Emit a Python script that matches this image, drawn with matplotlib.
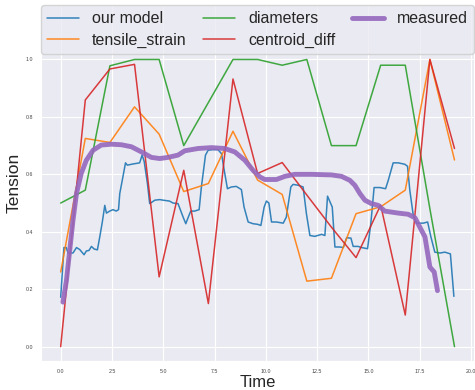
import numpy as np
import seaborn as sns
import matplotlib
matplotlib.use('Agg')
import matplotlib.pyplot as plt

# feature curves, sampled every 1.2 s
feature_time = [0.0, 1.2, 2.4, 3.6, 4.8, 6.0, 7.2, 8.4, 9.6, 10.8, 12.0, 13.2, 14.4, 15.6, 16.8, 18.0, 19.2]
tensile_strain = [0.26, 0.725, 0.711, 0.835, 0.74, 0.54, 0.568, 0.75, 0.58, 0.53, 0.228, 0.238, 0.463, 0.487, 0.545, 1.0, 0.65]
diameters = [0.50, 0.545, 0.978, 1.0, 1.0, 0.70, 0.85, 1.0, 1.0, 0.98, 1.0, 0.70, 0.70, 0.98, 0.98, 0.48, 0.0]
centroid_diff = [0.0, 0.859, 0.967, 0.983, 0.243, 0.614, 0.15, 0.932, 0.603, 0.641, 0.528, 0.416, 0.31, 0.493, 0.11, 1.0, 0.69]

# model output
model_time = [0.0, 0.16, 0.27, 0.36, 0.6, 0.77, 0.93, 1.14, 1.25, 1.38, 1.5, 1.63, 1.79, 1.9, 2.03, 2.15,
              2.23, 2.39, 2.55, 2.71, 2.82, 2.88, 3.01, 3.16, 3.25, 3.52, 3.85, 3.97, 4.07, 4.23, 4.34, 4.59,
              4.83, 4.99, 5.3, 5.48, 5.72, 5.97, 6.1, 6.21, 6.34, 6.53, 6.75, 6.86, 7.06, 7.19, 7.43, 7.67,
              7.84, 8.0, 8.13, 8.32, 8.56, 8.81, 8.94, 9.14, 9.38, 9.6, 9.76, 9.92, 10.03, 10.15, 10.28, 10.52,
              10.85, 11.0, 11.22, 11.33, 11.58, 11.82, 11.98, 12.15, 12.39, 12.72, 12.88, 13.01, 13.13, 13.24,
              13.37, 13.61, 13.78, 13.94, 14.15, 14.26, 14.5, 14.67, 14.96, 15.12, 15.28, 15.56, 15.84, 15.97,
              16.21, 16.46, 16.78, 16.91, 17.02, 17.19, 17.35, 17.68, 17.89, 18.05, 18.24, 18.49, 18.73, 19.0,
              19.17]
our_model = [0.172, 0.345, 0.345, 0.326, 0.326, 0.345, 0.338, 0.32, 0.333, 0.335, 0.349, 0.34, 0.337, 0.38,
             0.434, 0.492, 0.465, 0.472, 0.477, 0.472, 0.477, 0.533, 0.582, 0.64, 0.632, 0.636, 0.64, 0.667,
             0.645, 0.568, 0.498, 0.51, 0.512, 0.51, 0.507, 0.5, 0.498, 0.451, 0.428, 0.449, 0.472, 0.472,
             0.477, 0.556, 0.667, 0.684, 0.686, 0.686, 0.672, 0.603, 0.55, 0.556, 0.558, 0.547, 0.486, 0.434,
             0.428, 0.426, 0.422, 0.486, 0.507, 0.5, 0.434, 0.434, 0.43, 0.451, 0.556, 0.565, 0.562, 0.556,
             0.463, 0.387, 0.384, 0.391, 0.387, 0.524, 0.504, 0.486, 0.347, 0.347, 0.345, 0.379, 0.378, 0.349,
             0.349, 0.345, 0.341, 0.428, 0.554, 0.554, 0.55, 0.579, 0.64, 0.64, 0.635, 0.628, 0.545, 0.457,
             0.43, 0.43, 0.434, 0.382, 0.329, 0.326, 0.329, 0.323, 0.175]

# measured tension
measured_time = [0.11, 0.28, 0.44, 0.6, 0.77, 1.0, 1.25, 1.58, 1.98, 2.47, 2.96, 3.45, 3.94, 4.42, 4.83,
                 5.23, 5.72, 6.05, 6.7, 7.35, 8.0, 8.49, 8.98, 9.38, 9.71, 9.95, 10.52, 10.93, 11.41, 12.23,
                 13.2, 13.69, 14.1, 14.34, 14.59, 14.83, 15.15, 15.48, 15.8, 16.46, 16.94, 17.27, 17.51,
                 17.76, 17.92, 18.0, 18.21, 18.37]
measured = [0.155, 0.23, 0.335, 0.44, 0.533, 0.603, 0.649, 0.684, 0.702, 0.705, 0.703, 0.696, 0.678, 0.659,
            0.655, 0.659, 0.667, 0.682, 0.69, 0.693, 0.69, 0.678, 0.649, 0.614, 0.591, 0.582, 0.582, 0.593,
            0.6, 0.6, 0.598, 0.593, 0.579, 0.562, 0.533, 0.51, 0.498, 0.492, 0.472, 0.465, 0.461, 0.449,
            0.416, 0.382, 0.312, 0.277, 0.26, 0.195]

sns.set_style('darkgrid')
plt.rcParams['font.family'] = ['Liberation Sans', 'DejaVu Sans']

fig = plt.figure(figsize=(4.75, 3.9), dpi=100)
ax = fig.add_axes([0.0863, 0.0744, 0.912, 0.913])

ax.plot(model_time, our_model, color='tab:blue', lw=1.1, alpha=0.9, label='our model')
ax.plot(feature_time, tensile_strain, color='tab:orange', lw=1.1, alpha=0.9, label='tensile_strain')
ax.plot(feature_time, diameters, color='tab:green', lw=1.1, alpha=0.9, label='diameters')
ax.plot(feature_time, centroid_diff, color='tab:red', lw=1.1, alpha=0.9, label='centroid_diff')
ax.plot(measured_time, measured, color='tab:purple', lw=3.5, alpha=0.9, label='measured')

ax.set_ylim(-0.05, 1.19)
ax.set_yticks(np.arange(0, 1.01, 0.2))
ax.set_xticks(np.arange(0, 20.1, 2.5))
ax.tick_params(labelsize=3.8, colors='#444444', pad=2)
ax.set_xlabel('Time', fontsize=12, labelpad=1)
ax.set_ylabel('Tension', fontsize=12.5, labelpad=3)

ax.legend(loc='upper left', bbox_to_anchor=(0, 0, 1, 1), mode='expand', ncol=3,
          borderaxespad=0, fontsize=11.5, labelspacing=0.4, columnspacing=0.8, handletextpad=0.8)

fig.savefig('out.png', dpi=100)
